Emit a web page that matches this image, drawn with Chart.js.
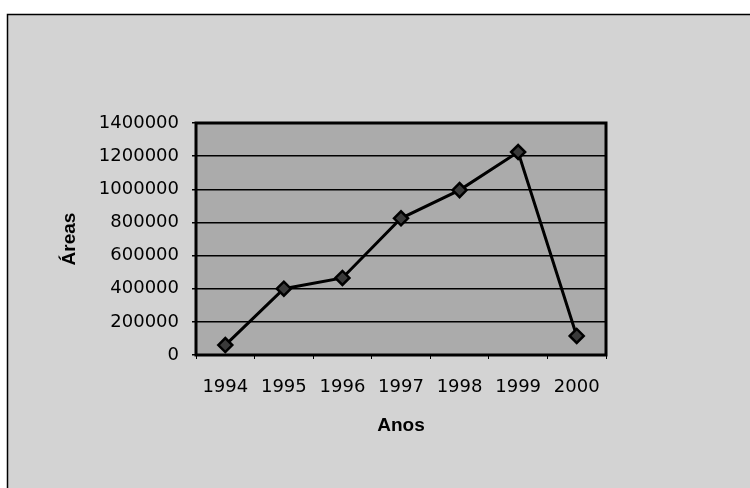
<!DOCTYPE html>
<html>
<head>
<meta charset="utf-8">
<script src="https://cdn.jsdelivr.net/npm/chart.js@4/dist/chart.umd.min.js"></script>
<style>
  html, body { margin: 0; padding: 0; background: #fff; }
  #wrap { width: 750px; height: 488px; position: relative; }
</style>
</head>
<body>
<div id="wrap"><canvas id="areasChart" width="750" height="488"></canvas></div>
<script>
// data
const anos = ['1994', '1995', '1996', '1997', '1998', '1999', '2000'];
const areas = [60000, 400000, 465000, 825000, 995000, 1225000, 115000];
const yTicks = [0, 200000, 400000, 600000, 800000, 1000000, 1200000, 1400000];

const outerBg = '#d3d3d3';
const plotBg = '#ababab';

// paints the outer frame and the grey plot area, like the old spreadsheet chart
const backgroundPlugin = {
  id: 'paperBackground',
  beforeDraw(chart) {
    const ctx = chart.ctx;
    const a = chart.chartArea;
    ctx.save();
    ctx.fillStyle = '#fff';
    ctx.fillRect(0, 0, chart.width, chart.height);
    ctx.fillStyle = outerBg;
    ctx.fillRect(7, 14, chart.width - 7, chart.height - 14);
    ctx.strokeStyle = '#000';
    ctx.lineWidth = 1.5;
    ctx.beginPath();
    ctx.moveTo(7.5, chart.height);
    ctx.lineTo(7.5, 14.5);
    ctx.lineTo(chart.width, 14.5);
    ctx.stroke();
    ctx.fillStyle = plotBg;
    ctx.fillRect(a.left, a.top, a.right - a.left, a.bottom - a.top);
    ctx.restore();
  },
  beforeDatasetsDraw(chart) {
    const ctx = chart.ctx;
    const a = chart.chartArea;
    ctx.save();
    ctx.strokeStyle = '#000';
    ctx.lineWidth = 3;
    ctx.strokeRect(a.left, a.top, a.right - a.left, a.bottom - a.top);
    ctx.restore();
  }
};

Chart.defaults.font.family = '"DejaVu Sans", sans-serif';
Chart.defaults.color = '#000';

new Chart(document.getElementById('areasChart'), {
  type: 'line',
  data: {
    labels: anos,
    datasets: [{
      label: 'Áreas',
      data: areas,
      borderColor: '#000',
      borderWidth: 3,
      tension: 0,
      pointStyle: 'rectRot',
      pointRadius: 7,
      pointBorderWidth: 2.5,
      pointBorderColor: '#000',
      pointBackgroundColor: '#3a3a3a'
    }]
  },
  options: {
    responsive: false,
    animation: false,
    layout: {
      padding: { left: 58, top: 123, right: 144, bottom: 0 }
    },
    plugins: {
      legend: { display: false },
      tooltip: { enabled: false }
    },
    scales: {
      x: {
        type: 'category',
        offset: true,
        grid: {
          offset: true,
          drawOnChartArea: false,
          drawTicks: true,
          tickLength: 4,
          color: '#000',
          lineWidth: 1
        },
        border: { display: false },
        ticks: {
          font: { size: 18 },
          padding: 18,
          maxRotation: 0,
          autoSkip: false
        },
        title: {
          display: true,
          text: 'Anos',
          font: { family: '"Liberation Sans", Arial, sans-serif', size: 19, weight: 'bold' },
          padding: { top: 0, bottom: 51 }
        },
        afterFit(scale) { scale.height = 133; }
      },
      y: {
        min: 0,
        max: 1400000,
        afterBuildTicks(scale) {
          scale.ticks = yTicks.map(v => ({ value: v }));
        },
        grid: {
          color: '#000',
          lineWidth: 1.5,
          drawTicks: true,
          tickLength: 4
        },
        border: { display: false },
        ticks: {
          font: { size: 18 },
          padding: 13,
          callback: v => String(v)
        },
        title: {
          display: true,
          text: 'Áreas',
          font: { family: '"Liberation Sans", Arial, sans-serif', size: 19, weight: 'bold' },
          padding: { top: 0, bottom: 0 }
        },
        afterFit(scale) { scale.width = 138; }
      }
    }
  },
  plugins: [backgroundPlugin]
});
</script>
</body>
</html>
